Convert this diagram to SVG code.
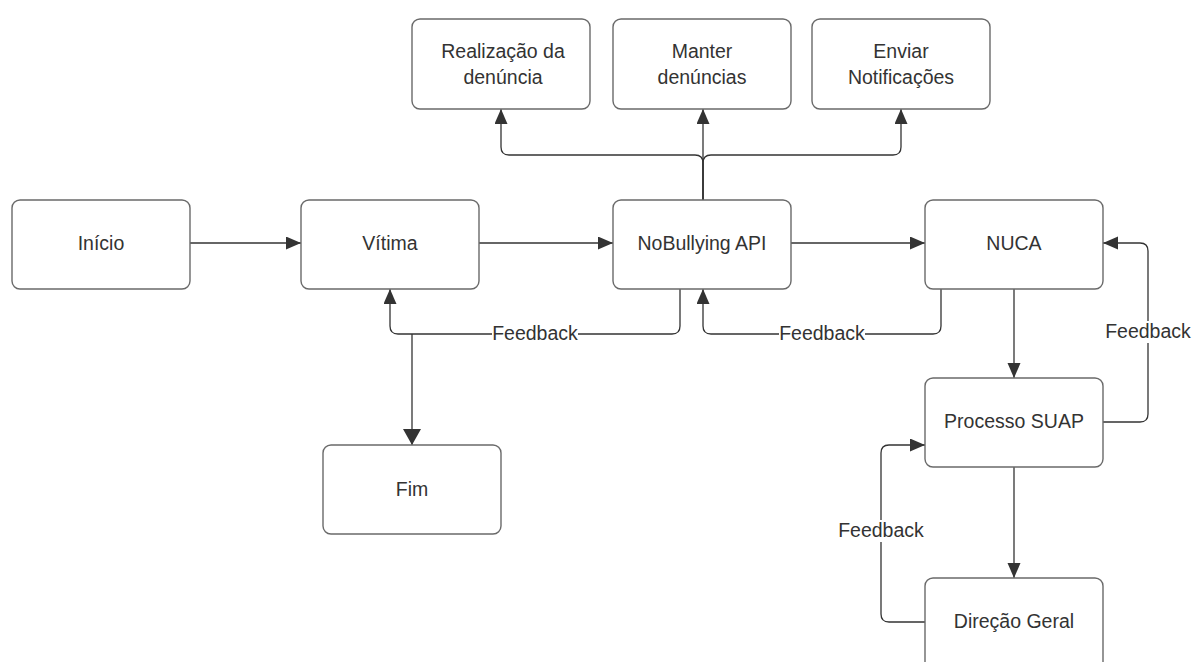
<svg xmlns="http://www.w3.org/2000/svg" width="1194" height="662" viewBox="0 0 1194 662">
<style>
.box{fill:#fff;stroke:#6a6a6a;stroke-width:1.4}
.t{font-family:"Liberation Sans",Arial,sans-serif;font-size:19.5px;fill:#333;text-anchor:middle;dominant-baseline:central}
.c{fill:none;stroke:#333;stroke-width:1.3}
.lb{fill:#fff}
</style>
<defs>
<marker id="ah" markerUnits="userSpaceOnUse" markerWidth="16" markerHeight="14" refX="15" refY="6.5" orient="auto">
<path d="M0,0 L15,6.5 L0,13 Z" fill="#333"/>
</marker>
<marker id="ahb" markerUnits="userSpaceOnUse" markerWidth="18" markerHeight="20" refX="16" refY="9" orient="auto">
<path d="M0,0 L16,9 L0,18 Z" fill="#333"/>
</marker>
</defs>
<rect width="1194" height="662" fill="#fff"/>
<g id="connectors">
<path class="c" d="M190,243 H301" marker-end="url(#ah)"/>
<path class="c" d="M479,243 H613" marker-end="url(#ah)"/>
<path class="c" d="M791,243 H925" marker-end="url(#ah)"/>
<path class="c" d="M703,200 V163 Q703,155 695,155 H509 Q501,155 501,147 V109" marker-end="url(#ah)"/>
<path class="c" d="M703,200 V163 Q703,155 711,155 H893 Q901,155 901,147 V109" marker-end="url(#ah)"/>
<path class="c" d="M703,200 V109" marker-end="url(#ah)"/>
<path class="c" d="M680,289 V326 Q680,334 672,334 H398 Q390,334 390,326 V289" marker-end="url(#ah)"/>
<path class="c" d="M412,334 V445" marker-end="url(#ahb)"/>
<path class="c" d="M941,289 V326 Q941,334 933,334 H711 Q703,334 703,326 V289" marker-end="url(#ah)"/>
<path class="c" d="M1014,289 V378" marker-end="url(#ah)"/>
<path class="c" d="M1103,422 H1140 Q1148,422 1148,414 V251 Q1148,243 1140,243 H1103" marker-end="url(#ah)"/>
<path class="c" d="M1014,466 V578" marker-end="url(#ah)"/>
<path class="c" d="M925,622 H889 Q881,622 881,614 V453 Q881,445 889,445 H925" marker-end="url(#ah)"/>
<rect class="lb" x="492" y="323" width="86" height="22"/>
<text class="t" x="535" y="333">Feedback</text>
<rect class="lb" x="779" y="323" width="86" height="22"/>
<text class="t" x="822" y="333">Feedback</text>
<rect class="lb" x="1105" y="321" width="86" height="22"/>
<text class="t" x="1148" y="331">Feedback</text>
<rect class="lb" x="838" y="520" width="86" height="22"/>
<text class="t" x="881" y="530">Feedback</text>
</g>
<g id="realizacao"><rect class="box" x="412" y="19" width="178" height="90" rx="8"/><text class="t" x="503" y="51">Realização da</text><text class="t" x="503" y="77">denúncia</text></g>
<g id="manter"><rect class="box" x="613" y="19" width="178" height="90" rx="8"/><text class="t" x="702" y="51">Manter</text><text class="t" x="702" y="77">denúncias</text></g>
<g id="enviar"><rect class="box" x="812" y="19" width="178" height="90" rx="8"/><text class="t" x="901" y="51">Enviar</text><text class="t" x="901" y="77">Notificações</text></g>
<g id="inicio"><rect class="box" x="12" y="200" width="178" height="89" rx="8"/><text class="t" x="101" y="243">Início</text></g>
<g id="vitima"><rect class="box" x="301" y="200" width="178" height="89" rx="8"/><text class="t" x="390" y="243">Vítima</text></g>
<g id="nobullying"><rect class="box" x="613" y="200" width="178" height="89" rx="8"/><text class="t" x="702" y="243">NoBullying API</text></g>
<g id="nuca"><rect class="box" x="925" y="200" width="178" height="89" rx="8"/><text class="t" x="1014" y="243">NUCA</text></g>
<g id="fim"><rect class="box" x="323" y="445" width="178" height="89" rx="8"/><text class="t" x="412" y="489">Fim</text></g>
<g id="processo"><rect class="box" x="925" y="378" width="178" height="89" rx="8"/><text class="t" x="1014" y="421">Processo SUAP</text></g>
<g id="direcao"><rect class="box" x="925" y="578" width="178" height="95" rx="8"/><text class="t" x="1014" y="621">Direção Geral</text></g>
</svg>
